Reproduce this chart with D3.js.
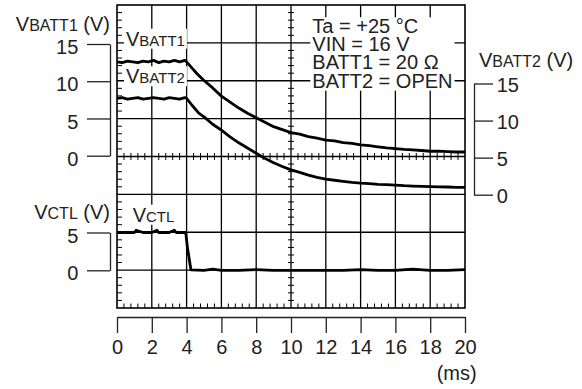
<!DOCTYPE html>
<html><head><meta charset="utf-8">
<script src="https://cdn.jsdelivr.net/npm/d3@7"></script>
<style>
body{margin:0;background:#fff}
svg{display:block}
text{font-family:"Liberation Sans",Arial,Helvetica,sans-serif;fill:#222}
</style>
</head><body>
<svg id="c" width="582" height="389"></svg>
<script>
// ---- data ----
const xTicks = [0,2,4,6,8,10,12,14,16,18,20];
const batt1Ticks = [0,5,10,15];
const batt2Ticks = [0,5,10,15];
const ctlTicks = [0,5];
const xUnit = "(ms)";
const notes = ["Ta = +25 °C","VIN = 16 V","BATT1 = 20 Ω","BATT2 = OPEN"];

const tBatt1 = [0,0.3,0.6,0.9,1.2,1.5,1.8,2.1,2.4,2.7,3.0,3.3,3.6,3.9,4.0,4.3,4.6,5.0,5.5,6.0,6.5,7.0,7.5,8.0,8.5,9.0,9.5,10,10.5,11,11.5,12,12.5,13,13.5,14,14.5,15,15.5,16,16.5,17,17.5,18,18.5,19,19.5,20];
const vBatt1 = [12.6,12.5,12.7,12.6,12.5,12.7,12.6,12.8,12.5,12.7,12.6,12.8,12.6,12.8,12.6,11.8,11.0,10.1,9.1,8.0,7.2,6.4,5.7,5.1,4.5,3.9,3.5,3.1,2.9,2.55,2.35,2.1,2.0,1.75,1.65,1.45,1.35,1.2,1.05,0.95,0.85,0.78,0.7,0.6,0.62,0.55,0.5,0.5];

const tBatt2 = [0,0.3,0.6,0.9,1.2,1.5,1.8,2.1,2.4,2.7,3.0,3.3,3.6,3.9,4.0,4.3,4.7,5.0,5.5,6.0,6.5,7.0,7.5,8.0,8.5,9.0,9.5,10,10.5,11,11.5,12,12.5,13,13.5,14,14.5,15,15.5,16,16.5,17,17.5,18,18.5,19,19.5,20];
const vBatt2 = [13.0,13.1,12.9,13.0,13.1,12.9,13.0,13.1,13.0,12.9,13.1,13.0,12.9,13.1,13.0,12.1,11.0,10.5,9.5,8.7,7.8,7.0,6.3,5.6,4.9,4.3,3.8,3.35,3.0,2.65,2.35,2.1,1.95,1.8,1.65,1.55,1.5,1.4,1.35,1.3,1.22,1.17,1.12,1.08,1.05,1.04,0.98,1.0];

const tCtl = [0,0.5,1.0,1.1,1.5,2.0,2.3,2.4,3.0,3.3,3.4,3.95,4.05,4.25,5,5.5,6,7,8,9,10,11,12,13,14,15,16,17,18,19,20];
const vCtl = [5.0,5.0,5.0,5.3,5.0,5.0,5.3,5.0,5.0,5.3,5.0,5.0,3.0,0.05,0,0.15,0,0,0.1,0,0,0,0,0,0.1,0,0,0.15,0,0,0.1];

// ---- layout ----
const svg = d3.select("#c");
const L = 117, R = 465, T = 5, B = 308;
const x = d3.scaleLinear([0,20],[L,R]);
const div = d3.scaleLinear([0,8],[T,B]);          // vertical grid divisions
const y1 = d3.scaleLinear([0,15],[155.7,44]);     // VBATT1 (left)
const y2 = d3.scaleLinear([0,15],[194.7,83.5]);   // VBATT2 (right)
const yc = d3.scaleLinear([0,5],[270.3,232.5]);   // VCTL (left)

const g = svg.append("g");
// grid
g.selectAll(".vg").data(xTicks.slice(1,-1)).join("line")
  .attr("x1",d=>x(d)).attr("x2",d=>x(d)).attr("y1",T).attr("y2",B)
  .attr("stroke","#000").attr("stroke-width",1.3);
g.selectAll(".hg").data(d3.range(1,8)).join("line")
  .attr("y1",d=>div(d)).attr("y2",d=>div(d)).attr("x1",L).attr("x2",R)
  .attr("stroke","#000").attr("stroke-width",1.3);

// minor ticks
const minorX = d3.range(0,20.001,0.4).filter(d=>Math.abs(d/2-Math.round(d/2))>0.01);
const minorY = d3.range(0,8.001,0.2).filter(d=>Math.abs(d-Math.round(d))>0.01);
const cy = div(4), cx = x(10);
g.selectAll(".mx").data(minorX).join("line")
  .attr("x1",d=>x(d)).attr("x2",d=>x(d)).attr("y1",cy-3.5).attr("y2",cy+3.5)
  .attr("stroke","#000").attr("stroke-width",1);
g.selectAll(".mxb").data(minorX).join("line")
  .attr("x1",d=>x(d)).attr("x2",d=>x(d)).attr("y1",B-4.5).attr("y2",B)
  .attr("stroke","#000").attr("stroke-width",1);
g.selectAll(".my").data(minorY).join("line")
  .attr("y1",d=>div(d)).attr("y2",d=>div(d)).attr("x1",cx-3).attr("x2",cx+3)
  .attr("stroke","#000").attr("stroke-width",1);
g.selectAll(".myl").data(minorY).join("line")
  .attr("y1",d=>div(d)).attr("y2",d=>div(d)).attr("x1",L).attr("x2",L+5)
  .attr("stroke","#000").attr("stroke-width",1);

// traces
function trace(ts, vs, ys){
  const pts = ts.map((t,i)=>[t,vs[i]]);
  g.append("path").datum(pts)
    .attr("d", d3.line().x(d=>x(d[0])).y(d=>ys(d[1])))
    .attr("fill","none").attr("stroke","#000").attr("stroke-width",2.8)
    .attr("stroke-linejoin","round");
}
trace(tBatt1, vBatt1, y1);
trace(tBatt2, vBatt2, y2);
trace(tCtl, vCtl, yc);

// labels with white backgrounds
function label(parent, xp, yp, big, small, rest, bs, ss){
  const t = parent.append("text").attr("x",xp).attr("y",yp);
  t.append("tspan").attr("font-size",bs).text(big);
  t.append("tspan").attr("font-size",ss).text(small);
  if(rest) t.append("tspan").attr("font-size",bs).text(rest);
  return t;
}
function boxed(node, pad){
  const bb = node.node().getBBox();
  d3.select(node.node().parentNode).insert("rect", function(){return node.node();})
    .attr("x",bb.x-pad).attr("y",bb.y+1).attr("width",bb.width+2*pad).attr("height",bb.height-2)
    .attr("fill","#fff");
}
const lg = svg.append("g");
boxed(label(lg.append("g"),126,45.7,"V","BATT1",null,20,15),2);
boxed(label(lg.append("g"),126,83.3,"V","BATT2",null,20,15),2);
boxed(label(lg.append("g"),132.7,221.7,"V","CTL",null,20,15),2);

// notes block
const ng = lg.append("g");
const nb = [33.3,50.9,69.3,87.7];
ng.selectAll("text").data(notes).join("text")
  .attr("x",312.3).attr("y",(d,i)=>nb[i]).attr("font-size",20).text(d=>d);
const nbb = ng.node().getBBox();
ng.insert("rect","text").attr("x",nbb.x-2).attr("y",nbb.y+2).attr("width",nbb.width+4).attr("height",nbb.height-3).attr("fill","#fff");

// border
svg.append("rect").attr("x",L).attr("y",T).attr("width",R-L).attr("height",B-T)
  .attr("fill","none").attr("stroke","#000").attr("stroke-width",1.6);

// axes
const fmt = d3.format("d");
function styleAxis(sel){
  sel.selectAll("path,line").attr("stroke","#222").attr("stroke-width",1.3);
  sel.selectAll("text").attr("font-size",20).attr("font-family",null).attr("fill","#222");
}
const ax = svg.append("g").attr("transform","translate(0,317)")
  .call(d3.axisBottom(x).tickValues(xTicks).tickFormat(fmt).tickSize(16).tickSizeOuter(0).tickPadding(7));
styleAxis(ax);
svg.append("text").attr("x",456.7).attr("y",380).attr("text-anchor","middle").attr("font-size",20).text(xUnit);

const a1 = svg.append("g").attr("transform","translate(110,0)")
  .call(d3.axisLeft(y1).tickValues(batt1Ticks).tickFormat(fmt).tickSize(23).tickSizeOuter(0).tickPadding(8.7));
styleAxis(a1); a1.selectAll("text").attr("dy","0.48em");
const a2 = svg.append("g").attr("transform","translate(474,0)")
  .call(d3.axisRight(y2).tickValues(batt2Ticks).tickFormat(fmt).tickSize(19).tickSizeOuter(0).tickPadding(3.7));
styleAxis(a2); a2.selectAll("text").attr("dy","0.38em");
const ac = svg.append("g").attr("transform","translate(110,0)")
  .call(d3.axisLeft(yc).tickValues(ctlTicks).tickFormat(fmt).tickSize(23).tickSizeOuter(0).tickPadding(8.7));
styleAxis(ac); ac.selectAll("text").attr("dy","0.48em");
svg.selectAll(".domain").attr("fill","none");

// axis titles
label(svg,110,30.7,"V","BATT1"," (V)",20,16).attr("text-anchor","end");
label(svg,479,66.7,"V","BATT2"," (V)",20,16);
label(svg,110,219.3,"V","CTL"," (V)",20,16).attr("text-anchor","end");
</script>
</body></html>
